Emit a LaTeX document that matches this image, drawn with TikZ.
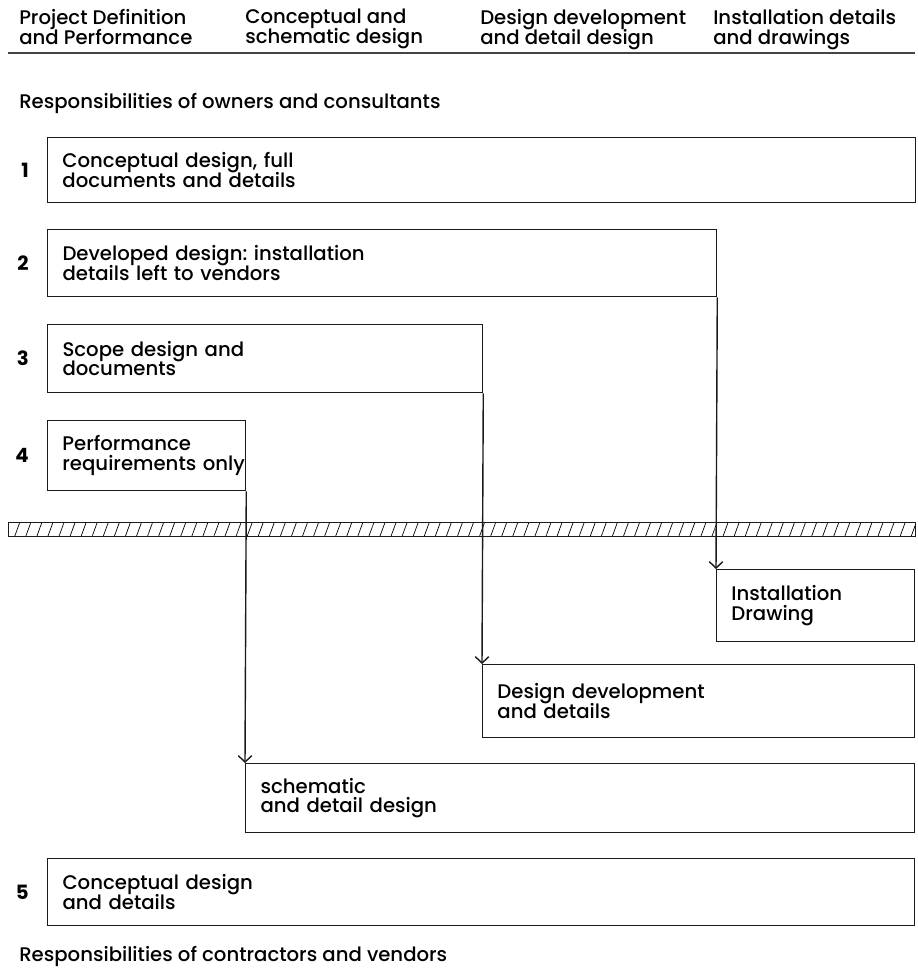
\documentclass[tikz,border=0pt]{standalone}
\usepackage{fontspec}
\setmainfont{Poppins Medium}[BoldFont={Poppins Bold}]
\usetikzlibrary{arrows.meta,positioning,patterns.meta}
\definecolor{ink}{HTML}{1A1A1A}
\definecolor{rulegray}{HTML}{444444}
\frenchspacing
\newcommand\boxfont{\fontsize{14}{14}\selectfont\lineskiplimit=-20pt\lineskip=0pt}
\tikzset{
  box/.style={draw=ink,line width=0.9pt,anchor=north west,align=left,inner xsep=3.7mm,font=\boxfont},
  arr/.style={-{Straight Barb[length=1.6mm,width=3.4mm,line width=1pt]},line width=1pt,color=ink},
  num/.style={inner sep=0pt,font=\fontsize{14}{14}\selectfont\bfseries},
  head/.style={anchor=north west,align=left,inner sep=0pt,font=\boxfont},
  bar/.style={draw=ink,line width=1.1pt,anchor=north west,pattern={Lines[angle=70,distance=2.6mm,line width=0.5pt]}},
}
\begin{document}
\begin{tikzpicture}[x=0.25mm,y=-0.25mm]
\useasboundingbox (0,0) rectangle (917,972);
% column heads
\node[head] (h1) at (19,9) {Project Definition\\and Performance};
\node[head] (h2) at (245,9) {Conceptual and\\schematic design};
\node[head] (h3) at (480,9) {Design development\\and detail design};
\node[head] (h4) at (713,9) {Installation details\\and drawings};
\coordinate (rl) at (8,53);
\coordinate (rr) at (915,53);
\draw[rulegray,line width=1.6pt] (rl)--(rr);
\node[head] (own) at (19,93) {Responsibilities of owners and consultants};
% owner side
\node[box,minimum width=217mm,minimum height=16.25mm,text width=209.6mm] (b1) at (47,137) {Conceptual design, full\\documents and details};
\node[box,minimum width=167.25mm,minimum height=16.75mm,text width=159.8mm] (b2) at (47,229) {Developed design: installation\\details left to vendors};
\node[box,minimum width=108.75mm,minimum height=17mm,text width=101.3mm] (b3) at (47,324) {Scope design and\\documents};
\node[box,minimum width=49.5mm,minimum height=17.5mm,text width=42.1mm] (b4) at (47,420) {Performance\\\mbox{requirements only}};
\node[num,left=4.5mm of b1.west] (n1) {1};
\node[num,left=4.5mm of b2.west] (n2) {2};
\node[num,left=4.5mm of b3.west] (n3) {3};
\node[num,left=4.5mm of b4.west] (n4) {4};
% divide
\node[bar,minimum width=226.75mm,minimum height=3.5mm] (bar) at (8,522) {};
% vendor side
\node[box,minimum width=49.5mm,minimum height=18mm,text width=42.1mm] (inst) at (716,569) {Installation\\Drawing};
\node[box,minimum width=108mm,minimum height=18.25mm,text width=100.6mm] (dd) at (482,664) {Design development\\and details};
\node[box,minimum width=167.25mm,minimum height=17.25mm,text width=159.8mm] (sch) at (245,763) {schematic\\and detail design};
\node[box,minimum width=216.75mm,minimum height=16.75mm,text width=209.3mm] (b5) at (47,858) {Conceptual design\\and details};
\node[num,left=4.5mm of b5.west] (n5) {5};
\draw[arr] (b2.south east)--(inst.north west);
\draw[arr] (b3.south east)--(dd.north west);
\draw[arr] (b4.south east)--(sch.north west);
\node[head] (ven) at (19,946) {Responsibilities of contractors and vendors};
\end{tikzpicture}
\end{document}
